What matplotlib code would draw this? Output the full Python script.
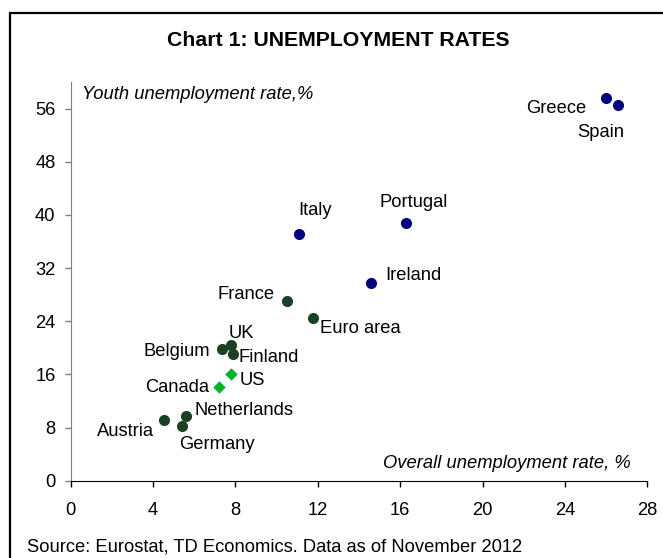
import matplotlib
matplotlib.use("Agg")
import matplotlib.pyplot as plt
from matplotlib.patches import Rectangle

plt.rcParams['font.family'] = ['Liberation Sans', 'DejaVu Sans']

# overall unemployment rate (%) vs youth unemployment rate (%)
countries = ['Greece', 'Spain', 'Portugal', 'Italy', 'Ireland', 'France', 'Euro area',
             'UK', 'Belgium', 'Finland', 'US', 'Canada', 'Netherlands', 'Austria', 'Germany']
overall = [25.98, 26.6, 16.28, 11.09, 14.6, 10.49, 11.78,
           7.79, 7.36, 7.88, 7.79, 7.2, 5.59, 4.52, 5.41]
youth = [57.6, 56.5, 38.8, 37.2, 29.8, 27.1, 24.5,
         20.4, 19.8, 19.1, 16.0, 14.1, 9.8, 9.1, 8.2]
group = ['crisis', 'crisis', 'crisis', 'crisis', 'crisis', 'core', 'core',
         'core', 'core', 'core', 'na', 'na', 'core', 'core', 'core']

# label placement: offset in pixels from the point, horizontal alignment
label_pos = {
    'Greece': (-19, -11, 'right'), 'Spain': (-18, -27, 'center'),
    'Portugal': (8, 20, 'center'), 'Italy': (16, 23, 'center'),
    'Ireland': (14, 7, 'left'), 'France': (-12, 6, 'right'),
    'Euro area': (7, -11, 'left'), 'UK': (10, 12, 'center'),
    'Belgium': (-12, -2, 'right'), 'Finland': (6, -4, 'left'),
    'US': (9, -6, 'left'), 'Canada': (-10, 0, 'right'),
    'Netherlands': (9, 5, 'left'), 'Austria': (-10, -11, 'right'),
    'Germany': (-3, -18, 'left'),
}

colors = {'crisis': '#00007f', 'core': '#1a4026', 'na': '#00b32a'}
markers = {'crisis': 'o', 'core': 'o', 'na': 'D'}
sizes = {'crisis': 64, 'core': 64, 'na': 40}

fig = plt.figure(figsize=(6.63, 5.58), dpi=100)
ax = fig.add_axes([0.1066, 0.1385, 0.8697, 0.7145])

for g in ['crisis', 'core', 'na']:
    xs = [x for x, gg in zip(overall, group) if gg == g]
    ys = [y for y, gg in zip(youth, group) if gg == g]
    ax.scatter(xs, ys, s=sizes[g], c=colors[g], marker=markers[g], linewidths=0, zorder=3)

for name, x, y in zip(countries, overall, youth):
    dx, dy, ha = label_pos[name]
    ax.annotate(name, (x, y), xytext=(dx, dy), textcoords='offset pixels',
                ha=ha, va='center', fontsize=13.2, color='black')

ax.set_xlim(0, 28)
ax.set_ylim(0, 60)
ax.set_xticks(range(0, 29, 4))
ax.set_yticks(range(0, 57, 8))
ax.spines['top'].set_visible(False)
ax.spines['right'].set_visible(False)
ax.spines['left'].set_color('#808080')
ax.spines['bottom'].set_color('black')
ax.tick_params(axis='x', direction='out', length=4, width=1, color='black', pad=11, labelsize=13.2)
ax.tick_params(axis='y', direction='out', length=4, width=1, color='#808080', pad=7, labelsize=13.2)

ax.text(0.0196, 0.969, 'Youth unemployment rate,%', transform=ax.transAxes,
        fontsize=13.2, style='italic', ha='left', va='center')
ax.text(0.972, 0.044, 'Overall unemployment rate, %', transform=ax.transAxes,
        fontsize=13.2, style='italic', ha='right', va='center')

fig.text(0.51, 0.928, 'Chart 1: UNEMPLOYMENT RATES', fontsize=15.3, fontweight='bold',
         ha='center', va='center')
fig.text(0.0407, 0.0195, 'Source: Eurostat, TD Economics. Data as of November 2012',
         fontsize=13.2, ha='left', va='center')

fig.patches.append(Rectangle((10 / 663, -0.1), 1.2, 0.1 + 545 / 558, transform=fig.transFigure,
                             fill=False, edgecolor='black', linewidth=1.6))

fig.savefig('out.png', dpi=100)
